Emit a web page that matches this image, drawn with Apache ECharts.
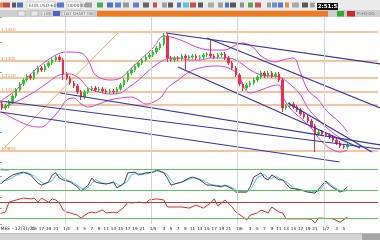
<!DOCTYPE html>
<html><head><meta charset="utf-8">
<script src="https://cdn.jsdelivr.net/npm/echarts@6/dist/echarts.min.js"></script>
<style>html,body{margin:0;padding:0;background:#fff}#c{width:380px;height:240px}</style>
</head><body><div id="c"></div>
<script>
// ---- price data (hourly bars), in chart price units ----
const opens  = [58,54,56,60,66,72,78,82,86,84, 90,94,92,96,99,102,105,102,88,84, 79,76,70,65,70,73,74,72,73,71, 70,71,70,73,77,82,89,92,96,99,
                102,105,107,110,114,118,126,104,102,104, 103,106,104,105,106,104,105,107,108,106, 105,107,108,104,99,94,87,78,74,77,
                79,82,85,89,86,89,86,88,82,54, 56,58,55,52,48,45,41,36,28,30, 28,27,25,22,19,16,15];
const closes = [54,56,60,66,72,78,82,86,84,90, 94,92,96,99,102,105,102,88,84,79, 76,70,65,70,73,74,72,73,71,70, 71,70,73,77,82,89,92,96,99,102,
                105,107,110,114,118,126,104,102,104,103, 106,104,105,106,104,105,107,108,106,105, 107,108,104,99,94,87,78,74,77,79,
                82,85,89,86,89,86,88,82,54,56, 58,55,52,48,45,41,36,28,30,28, 27,25,22,19,16,15,17];
const lows   = [52,52,54,58,64,70,76,80,82,82, 88,90,90,94,97,100,100,82,82,77, 74,68,62,63,68,71,70,70,69,68, 68,68,68,71,75,80,87,90,94,97,
                100,103,105,108,112,116,100,100,100,101, 101,92,102,103,102,102,103,105,104,103, 103,105,102,97,92,85,76,71,72,75,
                77,80,83,84,84,84,84,80,50,52, 54,53,50,46,43,39,34,10,26,26, 25,23,20,17,14,13,13];
const highs  = [60,58,62,68,74,80,84,88,88,92, 96,96,98,101,104,107,107,104,90,86, 81,78,72,72,75,76,76,75,75,73, 73,73,75,79,84,91,94,98,101,104,
                107,109,112,116,120,129,128,106,106,106, 108,108,107,108,108,107,109,110,122,108, 109,110,110,106,101,96,89,80,79,81,
                84,87,91,91,91,91,90,90,84,58, 60,60,57,54,50,47,43,38,32,32, 30,29,27,24,21,18,19];

// Bollinger bands: [bar index, price]
const bbUpper  = [[0,62],[4,72],[8,88],[12,100],[15,107],[18,110],[22,109],[24,102],[26,87],[30,82],[33,84],[36,94],[39,104],[42,114],[45,126],[48,124],[51,120],[54,115],[58,112],[62,112],[65,117],[67,119],[70,114],[72,106],[76,100],[78,102],[81,104],[83,89],[85,72],[88,62],[90,52],[94,39],[96,30]];
const bbMiddle = [[0,54],[5,62],[9,70],[13,80],[16,87],[19,88],[22,82],[24,74],[27,70],[30,68],[33,69],[35,74],[38,82],[41,92],[44,100],[47,104],[49,104],[52,102],[55,102],[58,104],[61,104],[63,104],[66,100],[69,92],[72,87],[74,86],[77,85],[80,78],[83,67],[85,54],[88,42],[91,32],[94,24],[96,20]];
const bbLower  = [[0,50],[4,42],[8,36],[11,35],[13,40],[16,52],[18,62],[20,64],[22,58],[24,55],[27,58],[30,62],[33,64],[36,65],[38,62],[40,58],[44,64],[46,74],[49,82],[52,90],[55,94],[59,96],[63,94],[66,86],[67,76],[69,69],[72,72],[75,76],[77,77],[78,66],[80,54],[83,44],[86,34],[88,24],[91,14],[94,10],[96,12]];

// drawn trend lines: [[index, price],[index, price]]
const blueLines = [
  [[45.6,129],[105.1,98]],
  [[57.0,124],[105.1,54]],
  [[48.9,95],[99.5,14]],
  [[79.5,59],[102.8,10]],
  [[-0.5,61],[105.1,13]],
  [[-0.5,50],[93.9,0]],
  [[16.2,69],[105.1,17]]
];
const orangeDiagonal = [[0.1,12],[32.3,129]];
const orangeLevels = [130,101,84,70,57,11];
const orangeLabels = ['1.1450','1.1305','1.1220','1.1150','1.1085','1.0855'];

// Stochastic (%K dark, %D cyan) and RSI-type oscillator
const stochK = [[0,40],[1,49],[3,63],[5,69],[6,71],[8,63],[10,40],[11,34],[13,43],[14,63],[15,69],[16,54],[17,49],[19,43],[21,29],[22,17],[24,34],[25,54],[26,43],[27,40],[29,37],[30,40],[31,43],[32,26],[34,40],[35,69],[37,71],[38,63],[40,69],[42,71],[43,77],[45,69],[46,54],[47,34],[49,40],[50,43],[52,54],[53,57],[55,49],[57,34],[58,34],[61,29],[62,34],[64,23],[65,14],[68,14],[69,29],[70,57],[72,69],[73,54],[74,49],[75,63],[77,49],[78,49],[80,26],[83,20],[85,14],[87,11],[89,34],[90,46],[91,34],[93,20],[94,14],[95,20],[96,29]];
const stochD = [[0,44],[2,50],[4,62],[6,69],[7,70],[9,60],[11,42],[12,37],[14,46],[15,62],[16,64],[17,54],[18,49],[20,41],[22,26],[23,20],[25,38],[26,50],[27,44],[28,40],[30,38],[31,41],[32,38],[33,30],[35,46],[36,64],[38,68],[39,64],[41,68],[43,74],[44,75],[46,64],[47,48],[48,38],[50,42],[51,46],[53,55],[54,55],[56,46],[58,36],[59,34],[62,31],[63,32],[65,20],[66,16],[69,18],[70,38],[71,57],[73,64],[74,54],[75,54],[76,60],[78,48],[79,44],[81,26],[84,19],[86,15],[88,16],[89,28],[90,40],[91,40],[92,30],[94,18],[95,16],[96,22]];
const stochLevels = [80,20];
const rsi = [[0,41],[1,44],[2,81],[4,89],[6,96],[8,93],[9,96],[10,81],[11,96],[13,81],[14,93],[15,89],[16,78],[17,52],[18,44],[19,41],[21,33],[22,22],[24,41],[25,44],[26,41],[28,52],[29,41],[31,44],[32,41],[34,63],[35,81],[36,78],[38,81],[40,78],[41,89],[43,93],[45,89],[46,63],[47,63],[50,63],[52,59],[54,70],[56,59],[58,78],[59,93],[60,67],[62,89],[64,63],[65,44],[67,26],[68,15],[69,33],[71,41],[72,52],[74,41],[75,63],[77,44],[78,41],[79,19],[82,19],[85,19],[86,17],[87,4],[88,22],[92,19],[94,7],[96,26]];
const rsiHigh = 80, rsiLow = 20;

// time axis
const N = 105;
const firstHour = 6;
const dayStarts = [18,42,66,90];
const dayLabels = ['1/4','1/5','1/6','1/7'];
const cats = [];
for (let i = 0; i < N; i++) cats.push(String((i + firstHour) % 24));

const chart = echarts.init(document.getElementById('c'));
const gridL = 0, gridR = 2;
const xv = (g) => ({type:'value', gridIndex:g, min:-0.5, max:N-0.5, show:false});
const dayMarks = dayStarts.map(d => ({xAxis: d - 0.5}));
const ml = (data) => ({silent:true, symbol:['none','none'], animation:false, label:{show:false}, data});

const series = [];
series.push({type:'line', xAxisIndex:1, yAxisIndex:0, data:[[-5,-5]], symbol:'none', lineStyle:{opacity:0}, z:0,
  markLine: Object.assign(ml(dayMarks), {lineStyle:{color:'#d6d6d6', width:1, type:'solid'}})});
series.push({type:'candlestick', xAxisIndex:0, yAxisIndex:0, barWidth:2, z:3,
  data: opens.map((o,i)=>[o, closes[i], lows[i], highs[i]]),
  itemStyle:{color:'#2ec52e', color0:'#e8304c', borderColor:'#2ec52e', borderColor0:'#e8304c', borderWidth:1},
  markLine: {silent:true, symbol:['none','none'], animation:false, z:1,
    lineStyle:{color:'#f6b07c', width:1.6, type:'solid'},
    label:{show:true, position:'insideStartTop', distance:[1,0], formatter:(p)=>orangeLabels[p.dataIndex], fontSize:4.2, color:'#d89060', fontFamily:'DejaVu Sans'},
    data: orangeLevels.map(v=>({yAxis:v}))}
});
[bbUpper, bbMiddle, bbLower].forEach(b => series.push({type:'line', xAxisIndex:1, yAxisIndex:0, data:b, smooth:0.35, symbol:'none', z:2,
  lineStyle:{color:'#d840d8', width:1}}));
blueLines.forEach(l => series.push({type:'line', xAxisIndex:1, yAxisIndex:0, data:l, symbol:'none', z:4,
  lineStyle:{color:'#3434a8', width:1.2}}));
series.push({type:'line', xAxisIndex:1, yAxisIndex:0, data:orangeDiagonal, symbol:'none', z:2, lineStyle:{color:'#f2a35c', width:1}});
series.push({type:'line', xAxisIndex:2, yAxisIndex:1, data:stochD, symbol:'none', lineStyle:{color:'#38d4d4', width:1},
  markLine: ml(dayMarks.map(d=>Object.assign({lineStyle:{color:'#d6d6d6',width:1,type:'solid'}}, d))
     .concat(stochLevels.map(v=>({yAxis:v, lineStyle:{color:'#5cc45c', width:1, type:'solid'}}))))});
series.push({type:'line', xAxisIndex:2, yAxisIndex:1, data:stochK, symbol:'none', lineStyle:{color:'#5a3456', width:1}});
series.push({type:'line', xAxisIndex:3, yAxisIndex:2, data:rsi, symbol:'none', lineStyle:{color:'#e22a2a', width:1},
  markLine: ml(dayMarks.map(d=>Object.assign({lineStyle:{color:'#d6d6d6',width:1,type:'solid'}}, d))
     .concat([{yAxis:rsiHigh, lineStyle:{color:'#b83a3a', width:1.2, type:'solid'}},
              {yAxis:rsiLow, lineStyle:{color:'#5cc45c', width:1, type:'solid'}}]))});

const yAx = (g, min, max) => ({type:'value', gridIndex:g, min, max, position:'right', splitLine:{show:false},
  axisLine:{show:false}, axisLabel:{show:false}, axisTick:{show:true, inside:true, length:2, lineStyle:{color:'#999'}}, splitNumber:5});

const icons = [[0,3,'#e07830'],[3,7,'#c03030'],[12,4,'#404040'],[17,6,'#3060c0'],[57,7,'#3a66c8'],[85,7,'#909090'],[97,6,'#30a040'],[107,6,'#3858c0'],[115,6,'#4070d0'],[123,6,'#8a8a8a'],[133,6,'#4a6ad0'],[143,6,'#505050'],[153,4,'#d03030'],[162,5,'#909090'],[168,5,'#404050'],[177,4,'#3a66c8'],[183,6,'#40c0d0'],[190,6,'#c83030'],[198,5,'#404040'],[208,6,'#a0a0a0'],[218,5,'#909090'],[225,4,'#3060c0'],[230,6,'#404040'],[240,4,'#808080'],[248,5,'#30a040'],[255,6,'#c83838'],[267,4,'#909090'],[272,5,'#5080d0'],[278,5,'#3a66d0'],[285,4,'#d08030'],[292,7,'#a0a0a0'],[302,6,'#404040'],[310,5,'#909090']];
const g = [];
g.push({type:'rect', shape:{x:0,y:0,width:380,height:10}, style:{fill:'#ececec'}});
icons.forEach(ic => g.push({type:'rect', shape:{x:ic[0], y:2.5, width:ic[1], height:5}, style:{fill:ic[2], opacity:0.85}}));
g.push({type:'rect', shape:{x:27,y:2,width:28,height:7}, style:{fill:'#fff', stroke:'#aaa', lineWidth:0.5}});
g.push({type:'text', x:29, y:3.2, style:{text:'EUR.USD-60', fontSize:4.5, fill:'#555', fontFamily:'DejaVu Sans'}});
g.push({type:'rect', shape:{x:67,y:2,width:14,height:7}, style:{fill:'#fff', stroke:'#aaa', lineWidth:0.5}});
g.push({type:'text', x:68, y:3.2, style:{text:'000000', fontSize:4.5, fill:'#555', fontFamily:'DejaVu Sans'}});
g.push({type:'rect', shape:{x:317,y:3,width:21,height:7.5}, style:{fill:'#111'}});
g.push({type:'text', x:327.5, y:3.6, style:{text:'12:51:52', fontSize:5.5, fontWeight:'bold', fill:'#fff', align:'center', fontFamily:'DejaVu Sans'}});
g.push({type:'rect', shape:{x:0,y:10,width:380,height:7}, style:{fill:'#cfcfcf'}});
[[18,7],[31,7],[42,8],[62,33]].forEach(t => g.push({type:'rect', shape:{x:t[0],y:11,width:t[1],height:5}, style:{fill:'#e8e8e8', stroke:'#999', lineWidth:0.4}}));
g.push({type:'rect', shape:{x:53,y:11,width:7,height:5}, style:{fill:'#4a62c4'}});
g.push({type:'text', x:64, y:11.6, style:{text:'DAY CHART TAB', fontSize:3.8, fill:'#666', fontFamily:'DejaVu Sans'}});
g.push({type:'text', x:44, y:11.6, style:{text:'LIN', fontSize:3.8, fill:'#666', fontFamily:'DejaVu Sans'}});
g.push({type:'rect', shape:{x:97,y:11,width:231,height:5.5}, style:{fill:'#f07a1e'}});
g.push({type:'rect', shape:{x:337,y:11,width:7,height:5.5}, style:{fill:'#2fae2f'}});
g.push({type:'rect', shape:{x:347,y:11,width:8,height:5.5}, style:{fill:'#d02828'}});
g.push({type:'text', x:357, y:11.6, style:{text:'P:+Ω·ΩΩ', fontSize:4, fill:'#777', fontFamily:'DejaVu Sans'}});
g.push({type:'rect', shape:{x:0,y:233,width:380,height:7}, style:{fill:'#d4d4d4'}});
g.push({type:'rect', shape:{x:0,y:233,width:380,height:0.6}, style:{fill:'#a8a8a8'}});
g.push({type:'rect', shape:{x:362,y:234,width:18,height:6}, style:{fill:'#a4a4a4'}});
g.push({type:'text', x:0.5, y:226.5, style:{text:'MEE - 12/31/21', fontSize:4.6, fill:'#222', fontFamily:'DejaVu Sans'}});
g.push({type:'text', x:1, y:168, style:{text:'Stoc', fontSize:3.8, fill:'#666', fontFamily:'DejaVu Sans'}});

chart.setOption({
  animation:false,
  backgroundColor:'#ffffff',
  grid:[
    {left:gridL, right:gridR, top:17, height:145},
    {left:gridL, right:gridR, top:162, height:35},
    {left:gridL, right:gridR, top:197, height:27}
  ],
  xAxis:[
    {type:'category', gridIndex:0, data:cats, boundaryGap:true, axisLine:{show:false}, axisTick:{show:false}, axisLabel:{show:false}},
    xv(0), xv(1), xv(2),
    {type:'category', gridIndex:2, data:cats, boundaryGap:true, position:'bottom',
      axisLine:{show:false}, axisTick:{show:false},
      axisLabel:{show:true, margin:3, fontSize:4.2, color:'#111', fontFamily:'DejaVu Sans', hideOverlap:false,
        interval:(idx)=> dayStarts.includes(idx) || (idx >= 9 && idx % 2 === 1 && idx < 97 && !dayStarts.includes(idx+1) && !dayStarts.includes(idx-1)),
        formatter:(v, idx)=> { const k = dayStarts.indexOf(idx); return k >= 0 ? dayLabels[k] : v; }}}
  ],
  yAxis:[yAx(0,0,145), yAx(1,0,100), yAx(2,0,100)],
  graphic: g,
  series
});
</script>
</body></html>
